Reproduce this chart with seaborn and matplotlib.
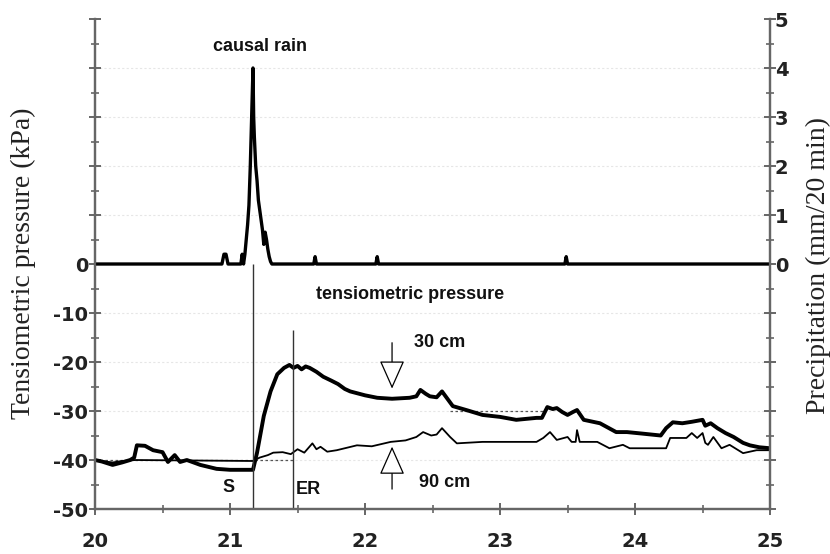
import numpy as np
import matplotlib
matplotlib.use("Agg")
import matplotlib.pyplot as plt
import seaborn as sns
from matplotlib.ticker import MultipleLocator, FuncFormatter

# precipitation, mm per 20 min (right axis)
rain_t = [20.0, 20.94, 20.955, 20.97, 20.985, 21.08, 21.09, 21.10, 21.11, 21.12,
          21.13, 21.14, 21.15, 21.16, 21.17, 21.175, 21.18, 21.19, 21.20, 21.21,
          21.22, 21.23, 21.24, 21.25, 21.26, 21.27, 21.28, 21.29, 21.30, 21.31,
          21.62, 21.63, 21.64, 22.08, 22.09, 22.10, 23.48, 23.49, 23.50, 25.0]
rain_v = [0, 0, 0.2, 0.2, 0, 0, 0.2, 0, 0.2, 0.5,
          0.8, 1.2, 2.0, 3.0, 4.0, 3.0, 2.6, 2.0, 1.7, 1.3,
          1.1, 0.9, 0.7, 0.4, 0.65, 0.5, 0.3, 0.15, 0.05, 0,
          0, 0.15, 0, 0, 0.15, 0, 0, 0.15, 0, 0]

# tensiometric pressure at 30 cm, kPa
t30 = [20.0, 20.05, 20.13, 20.2, 20.26, 20.29, 20.31, 20.37, 20.43, 20.5,
       20.54, 20.59, 20.63, 20.68, 20.78, 20.9, 21.0, 21.1, 21.17, 21.2,
       21.25, 21.3, 21.35, 21.4, 21.44, 21.47, 21.5, 21.53, 21.56, 21.59,
       21.64, 21.69, 21.75, 21.8, 21.85, 21.89, 22.0, 22.09, 22.2, 22.33,
       22.38, 22.41, 22.45, 22.48, 22.53, 22.57, 22.61, 22.65, 22.75, 22.87,
       23.0, 23.12, 23.27, 23.31, 23.35, 23.39, 23.42, 23.46, 23.5, 23.54,
       23.57, 23.62, 23.74, 23.86, 23.94, 24.05, 24.19, 24.23, 24.28, 24.35,
       24.42, 24.5, 24.52, 24.56, 24.61, 24.67, 24.73, 24.8, 24.85, 24.92,
       25.0]
v30 = [-40, -40.3, -41, -40.5, -40, -39.5, -37, -37.1, -38, -38.4,
       -40.4, -39, -40.4, -40, -41, -41.8, -42, -42, -42, -38.5,
       -31, -26, -22.5, -21.2, -20.6, -21.2, -20.8, -21.5, -20.9, -21.2,
       -22, -23, -23.8, -24.5, -25.5, -26, -26.8, -27.3, -27.5, -27.3,
       -27, -25.7, -26.5, -27, -27.2, -26, -27.5, -29, -29.8, -30.8,
       -31.2, -31.8, -31.4, -31.4, -29.2, -29.6, -29.4, -30.2, -30.8, -30.2,
       -29.8, -31.8, -32.5, -34.3, -34.3, -34.6, -35, -33.5, -32.3, -32.5,
       -32.2, -31.8, -33, -32.5, -33.5, -34.5, -35.3, -36.5, -37, -37.4,
       -37.6]

# tensiometric pressure at 90 cm, kPa
t90 = [20.0, 20.05, 20.13, 20.2, 20.3, 21.17, 21.22, 21.28, 21.32, 21.39,
       21.45, 21.5, 21.55, 21.61, 21.64, 21.67, 21.72, 21.79, 21.94, 22.05,
       22.19, 22.3, 22.38, 22.43, 22.49, 22.53, 22.57, 22.63, 22.68, 22.87,
       23.27, 23.32, 23.37, 23.42, 23.5, 23.53, 23.56, 23.57, 23.59, 23.72,
       23.81, 23.91, 23.96, 24.23, 24.26, 24.38, 24.42, 24.46, 24.5, 24.52,
       24.54, 24.58, 24.64, 24.7, 24.8, 24.9, 25.0]
v90 = [-40, -40.2, -40.5, -40.2, -40, -40.2, -39.5, -39, -38.5, -38.4,
       -38.8, -37.8, -38.5, -36.6, -37.8, -37.3, -38.3, -38, -37, -37.2,
       -36.3, -36, -35.3, -34.3, -35, -34.8, -33.5, -35.3, -36.6, -36.3,
       -36.3, -35.5, -34.3, -35.9, -35.3, -36.3, -36.3, -33.9, -36.3, -36.3,
       -37.6, -36.9, -37.6, -37.6, -35.5, -35.5, -34.5, -35.5, -34.5, -36.5,
       -36.9, -35.3, -37.6, -36.9, -38.6, -38, -38]

x_ticks = [20, 21, 22, 23, 24, 25]
rain_onset = 21.17
rain_er = 21.47

sns.set_style("ticks")
plt.rcParams['font.family'] = ['Liberation Sans', 'DejaVu Sans']

fig = plt.figure(figsize=(8.3, 5.54), dpi=100)
ax = fig.add_axes([0.1145, 0.0812, 0.8133, 0.8845])
ax2 = ax.twinx()

spine_c = '#666666'
for a in (ax, ax2):
    a.set_xlim(20, 25)
    a.spines['top'].set_visible(False)
    for s in ('left', 'right', 'bottom'):
        a.spines[s].set_color(spine_c)
        a.spines[s].set_linewidth(1.6)
    a.tick_params(which='major', direction='inout', length=9, width=1.4,
                  color=spine_c, labelsize=14, labelcolor='#222222')
    a.tick_params(which='minor', direction='inout', length=6, width=1.2, color=spine_c)

ax.set_ylim(-50, 50)
ax2.set_ylim(-5, 5)
ax.set_xticks(x_ticks)
ax.xaxis.set_minor_locator(MultipleLocator(0.5))
ax.yaxis.set_major_locator(MultipleLocator(10))
ax.yaxis.set_minor_locator(MultipleLocator(5))
ax.yaxis.set_major_formatter(FuncFormatter(lambda v, p: f"{v:.0f}" if v <= 0 else ""))
ax2.yaxis.set_major_locator(MultipleLocator(1))
ax2.yaxis.set_minor_locator(MultipleLocator(0.5))
ax2.yaxis.set_major_formatter(FuncFormatter(lambda v, p: f"{v:.0f}" if v >= 0 else ""))
ax.tick_params(axis='x', pad=12)
ax.tick_params(axis='y', pad=0.5)
ax2.tick_params(axis='y', pad=-1)

tick_font = dict(family='DejaVu Sans', size=14, weight='semibold')
for lab in ax.get_xticklabels() + ax.get_yticklabels() + ax2.get_yticklabels():
    lab.set_fontproperties(tick_font)

# faint dotted grid
for g in range(-40, 50, 10):
    if g != 0:
        ax.axhline(g, color='#e6e6e6', lw=0.8, ls=(0, (2, 2)), zorder=0)
ax.hlines(-40, 20, rain_er, color='#555555', lw=0.9, ls=(0, (2, 2)), zorder=1)
ax.hlines(-30, 22.63, 23.32, color='#555555', lw=0.9, ls=(0, (2, 2)), zorder=1)

sns.lineplot(x=t90, y=v90, ax=ax, color='black', lw=1.3, estimator=None, sort=False)
sns.lineplot(x=t30, y=v30, ax=ax, color='black', lw=2.8, estimator=None, sort=False)
sns.lineplot(x=rain_t, y=rain_v, ax=ax2, color='black', lw=2.4, estimator=None, sort=False)

ax.vlines(rain_onset, -50, 0, color='#333333', lw=1.0)
ax.vlines(rain_er, -50, -13.5, color='#333333', lw=1.0)

bold = dict(fontsize=13, fontweight='bold', color='#111111', ha='center', va='center')
ax.text(21.22, 44.3, "causal rain", **bold)
ax.text(22.33, -6.3, "tensiometric pressure", **bold)
ax.text(22.55, -16, "30 cm", **bold)
ax.text(22.59, -44.5, "90 cm", **bold)
ax.text(20.99, -45.7, "S", **bold)
ax.text(21.58, -46, "ER", **bold)

arrow = dict(arrowstyle='-|>,head_length=1.8,head_width=0.8', fc='white', ec='black', lw=0.9)
ax.annotate('', xy=(22.2, -26), xytext=(22.2, -15.5), arrowprops=arrow)
ax.annotate('', xy=(22.2, -36.7), xytext=(22.2, -46.5), arrowprops=arrow)

serif = dict(family=['Liberation Serif', 'DejaVu Serif'], fontsize=20, color='#222222',
             rotation=90, ha='center', va='center')
fig.text(23 / 830, 1 - 263 / 554, "Tensiometric pressure (kPa)", **serif)
fig.text(818 / 830, 1 - 265 / 554, "Precipitation (mm/20 min)", **serif)

fig.savefig("out.png", dpi=100)
